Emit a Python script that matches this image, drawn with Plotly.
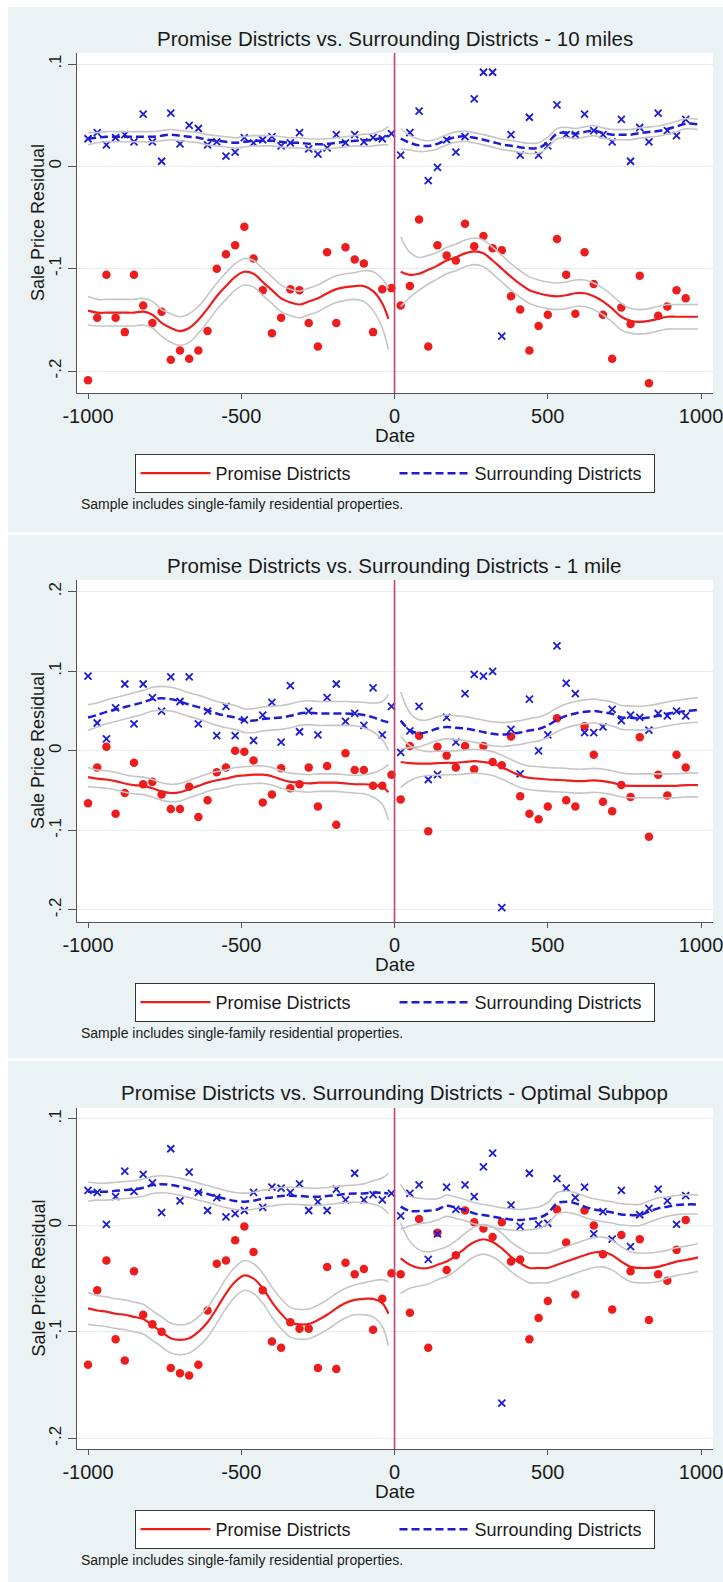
import plotly.graph_objects as go

W, H = 723, 1582

# ---------------- data ----------------
XL = [-1000, -970, -940, -910, -880, -850, -820, -790, -760, -730, -700, -670, -640, -610, -580, -550, -520,
      -490, -460, -430, -400, -370, -340, -310, -280, -250, -220, -190, -160, -130, -100, -70, -40, -10]
XR = [20, 50, 80, 110, 140, 170, 200, 230, 260, 290, 320, 350, 380, 410, 440, 470, 500, 530, 560, 590, 620,
      650, 680, 710, 740, 770, 800, 830, 860, 890, 920, 950]
XL_FIT = [-1000, -970, -940, -910, -880, -850, -820, -790, -760, -730, -700, -670, -640, -610, -580, -550, -520,
          -490, -460, -430, -400, -370, -340, -310, -280, -250, -220, -190, -160, -130, -100, -70, -40, -20]
XR_FIT = [20, 50, 80, 110, 140, 170, 200, 230, 260, 290, 320, 350, 380, 410, 440, 470, 500, 530, 560, 590, 620,
          650, 680, 710, 740, 770, 800, 830, 860, 890, 920, 950, 990]

TITLES = ["Promise Districts vs. Surrounding Districts - 10 miles",
          "Promise Districts vs. Surrounding Districts - 1 mile",
          "Promise Districts vs. Surrounding Districts - Optimal Subpop"]
X_TICKS = [-1000, -500, 0, 500, 1000]
X_TICKTEXT = ["-1000", "-500", "0", "500", "1000"]
Y_TICKS_A = [0.1, 0, -0.1, -0.2]
Y_TICKTEXT_A = [".1", "0", "-.1", "-.2"]
Y_TICKS_B = [0.2, 0.1, 0, -0.1, -0.2]
Y_TICKTEXT_B = [".2", ".1", "0", "-.1", "-.2"]
NOTE = "Sample includes single-family residential properties."

# ---- panel 1: 10 miles ----
P1_RED_L = [-0.209, -0.148, -0.106, -0.148, -0.162, -0.106, -0.136, -0.153, -0.142, -0.189, -0.180, -0.188,
            -0.180, -0.161, -0.100, -0.086, -0.077, -0.059, -0.090, -0.121, -0.163, -0.148, -0.120, -0.121,
            -0.153, -0.176, -0.084, -0.153, -0.079, -0.091, -0.095, -0.162, -0.120, -0.119]
P1_RED_R = [-0.136, -0.117, -0.052, -0.176, -0.077, -0.087, -0.092, -0.056, -0.078, -0.068, -0.080, -0.082,
            -0.127, -0.140, -0.180, -0.156, -0.145, -0.071, -0.106, -0.144, -0.084, -0.115, -0.145, -0.188,
            -0.138, -0.154, -0.107, -0.212, -0.146, -0.137, -0.121, -0.129]
P1_BLUE_L = [0.027, 0.033, 0.021, 0.028, 0.031, 0.024, 0.051, 0.024, 0.005, 0.052, 0.022, 0.040, 0.037,
             0.021, 0.024, 0.010, 0.014, 0.028, 0.023, 0.026, 0.029, 0.020, 0.023, 0.033, 0.017, 0.012,
             0.018, 0.031, 0.023, 0.031, 0.024, 0.028, 0.027, 0.032]
P1_BLUE_R = [0.011, 0.033, 0.054, -0.014, -0.001, 0.026, 0.014, 0.029, 0.066, 0.092, 0.092, -0.166, 0.031,
             0.011, 0.048, 0.011, 0.020, 0.060, 0.031, 0.031, 0.051, 0.035, 0.031, 0.024, 0.046, 0.005,
             0.038, 0.024, 0.052, 0.035, 0.030, 0.046]
P1_RED_FIT_L = [-0.141, -0.143, -0.143, -0.143, -0.143, -0.143, -0.142, -0.145, -0.153, -0.158, -0.161, -0.158,
                -0.150, -0.139, -0.127, -0.117, -0.108, -0.103, -0.105, -0.113, -0.121, -0.129, -0.133, -0.135,
                -0.132, -0.129, -0.124, -0.120, -0.118, -0.117, -0.117, -0.122, -0.134, -0.149]
P1_RED_HW_L = [0.014, 0.013, 0.013, 0.013, 0.013, 0.013, 0.013, 0.013, 0.013, 0.014, 0.014, 0.014, 0.013,
               0.013, 0.013, 0.013, 0.013, 0.013, 0.013, 0.013, 0.013, 0.013, 0.013, 0.013, 0.013, 0.013,
               0.013, 0.013, 0.013, 0.013, 0.015, 0.019, 0.024, 0.030]
P1_RED_FIT_R = [-0.103, -0.106, -0.105, -0.101, -0.097, -0.092, -0.089, -0.085, -0.083, -0.085, -0.092, -0.100,
                -0.108, -0.115, -0.121, -0.124, -0.126, -0.127, -0.126, -0.124, -0.124, -0.127, -0.132, -0.139,
                -0.147, -0.151, -0.152, -0.151, -0.149, -0.147, -0.147, -0.147, -0.147]
P1_RED_HW_R = [0.034, 0.022, 0.016, 0.014, 0.013, 0.013, 0.013, 0.013, 0.013, 0.013, 0.013, 0.013, 0.013,
               0.013, 0.013, 0.013, 0.013, 0.013, 0.013, 0.013, 0.013, 0.013, 0.013, 0.013, 0.013, 0.012,
               0.012, 0.012, 0.012, 0.012, 0.012, 0.012, 0.012]
P1_BLUE_FIT_L = [0.027, 0.028, 0.029, 0.029, 0.029, 0.029, 0.029, 0.029, 0.030, 0.031, 0.030, 0.029, 0.028,
                 0.026, 0.025, 0.024, 0.023, 0.024, 0.025, 0.025, 0.025, 0.024, 0.023, 0.023, 0.022, 0.0215,
                 0.022, 0.023, 0.024, 0.025, 0.0255, 0.026, 0.028, 0.030]
P1_BLUE_HW_L = [0.006, 0.005, 0.005, 0.005, 0.005, 0.005, 0.005, 0.005, 0.005, 0.005, 0.005, 0.005, 0.005,
                0.005, 0.005, 0.005, 0.005, 0.005, 0.005, 0.005, 0.005, 0.005, 0.005, 0.005, 0.005, 0.005,
                0.005, 0.005, 0.005, 0.005, 0.006, 0.006, 0.007, 0.009]
P1_BLUE_FIT_R = [0.027, 0.023, 0.0205, 0.020, 0.022, 0.026, 0.0287, 0.0293, 0.028, 0.026, 0.0238, 0.0215,
                 0.0202, 0.0186, 0.0176, 0.018, 0.0235, 0.0319, 0.0332, 0.032, 0.0336, 0.035, 0.0326, 0.031,
                 0.031, 0.031, 0.0326, 0.0336, 0.0345, 0.0365, 0.039, 0.0417, 0.041]
P1_BLUE_HW_R = [0.010, 0.007, 0.006, 0.005, 0.005, 0.005, 0.005, 0.005, 0.005, 0.005, 0.005, 0.005, 0.005,
                0.005, 0.005, 0.005, 0.005, 0.005, 0.005, 0.005, 0.005, 0.005, 0.005, 0.005, 0.005, 0.005,
                0.005, 0.005, 0.005, 0.005, 0.005, 0.005, 0.005]

# ---- panel 2: 1 mile ----
P2_RED_L = [-0.066, -0.021, 0.005, -0.079, -0.053, -0.015, -0.042, -0.039, -0.055, -0.073, -0.073, -0.045,
            -0.083, -0.062, -0.027, -0.021, 0.000, -0.001, -0.012, -0.065, -0.055, -0.022, -0.047, -0.042,
            -0.021, -0.070, -0.019, -0.093, -0.003, -0.024, -0.024, -0.044, -0.044, -0.030]
P2_RED_R = [-0.061, 0.006, 0.019, -0.101, 0.005, -0.006, -0.021, 0.006, -0.023, 0.006, -0.014, -0.018,
            0.018, -0.057, -0.079, -0.086, -0.070, 0.041, -0.062, -0.070, 0.031, -0.005, -0.064, -0.076,
            -0.043, -0.058, 0.017, -0.108, -0.030, -0.056, -0.005, -0.021]
P2_BLUE_L = [0.094, 0.035, 0.015, 0.054, 0.084, 0.034, 0.084, 0.067, 0.050, 0.093, 0.062, 0.093, 0.034,
             0.050, 0.019, 0.056, 0.019, 0.039, 0.013, 0.045, 0.061, 0.011, 0.082, 0.024, 0.050, 0.020,
             0.067, 0.084, 0.037, 0.047, 0.032, 0.079, 0.020, 0.056]
P2_BLUE_R = [-0.002, 0.025, 0.056, -0.036, -0.030, 0.042, 0.011, 0.072, 0.096, 0.094, 0.100, -0.197, 0.027,
             -0.029, 0.065, 0.000, 0.020, 0.132, 0.085, 0.072, 0.023, 0.023, 0.030, 0.052, 0.038, 0.045,
             0.042, 0.026, 0.047, 0.044, 0.050, 0.044]
P2_RED_FIT_L = [-0.033, -0.035, -0.036, -0.038, -0.041, -0.043, -0.044, -0.047, -0.051, -0.053, -0.052, -0.048,
                -0.044, -0.040, -0.037, -0.035, -0.032, -0.031, -0.030, -0.030, -0.032, -0.036, -0.039, -0.040,
                -0.041, -0.040, -0.040, -0.040, -0.041, -0.042, -0.042, -0.043, -0.045, -0.052]
P2_RED_HW_L = [0.012, 0.011, 0.011, 0.011, 0.011, 0.011, 0.011, 0.011, 0.011, 0.011, 0.011, 0.011, 0.011,
               0.011, 0.011, 0.011, 0.011, 0.011, 0.011, 0.011, 0.011, 0.011, 0.011, 0.011, 0.011, 0.011,
               0.011, 0.011, 0.011, 0.011, 0.012, 0.015, 0.022, 0.035]
P2_RED_FIT_R = [-0.014, -0.0155, -0.016, -0.016, -0.0155, -0.015, -0.015, -0.014, -0.013, -0.014, -0.016,
                -0.0205, -0.026, -0.031, -0.034, -0.035, -0.036, -0.0365, -0.037, -0.038, -0.038, -0.037,
                -0.038, -0.040, -0.043, -0.044, -0.044, -0.044, -0.044, -0.044, -0.044, -0.043, -0.043]
P2_RED_HW_R = [0.032, 0.022, 0.017, 0.015, 0.015, 0.015, 0.015, 0.015, 0.015, 0.015, 0.015, 0.015, 0.015,
               0.015, 0.015, 0.015, 0.015, 0.015, 0.015, 0.015, 0.015, 0.015, 0.015, 0.015, 0.015, 0.015,
               0.015, 0.015, 0.015, 0.015, 0.015, 0.015, 0.015]
P2_BLUE_FIT_L = [0.042, 0.045, 0.049, 0.052, 0.055, 0.058, 0.061, 0.065, 0.066, 0.065, 0.062, 0.058, 0.055,
                 0.051, 0.047, 0.044, 0.042, 0.038, 0.038, 0.040, 0.041, 0.042, 0.044, 0.047, 0.048, 0.047,
                 0.047, 0.047, 0.047, 0.0465, 0.045, 0.042, 0.038, 0.036]
P2_BLUE_HW_L = [0.016, 0.015, 0.015, 0.015, 0.015, 0.015, 0.015, 0.015, 0.015, 0.015, 0.015, 0.015, 0.015,
                0.015, 0.015, 0.015, 0.015, 0.015, 0.015, 0.015, 0.015, 0.015, 0.015, 0.015, 0.015, 0.015,
                0.015, 0.015, 0.015, 0.015, 0.016, 0.018, 0.024, 0.035]
P2_BLUE_FIT_R = [0.038, 0.026, 0.022, 0.024, 0.028, 0.030, 0.029, 0.028, 0.026, 0.0235, 0.0215, 0.0205, 0.0215,
                 0.023, 0.0255, 0.0275, 0.032, 0.039, 0.044, 0.047, 0.049, 0.050, 0.0485, 0.0465, 0.042,
                 0.0415, 0.041, 0.042, 0.044, 0.0465, 0.0485, 0.050, 0.0515]
P2_BLUE_HW_R = [0.036, 0.022, 0.017, 0.015, 0.015, 0.015, 0.015, 0.015, 0.015, 0.015, 0.015, 0.015, 0.015,
                0.015, 0.015, 0.015, 0.015, 0.015, 0.015, 0.015, 0.015, 0.015, 0.015, 0.015, 0.015, 0.015,
                0.015, 0.015, 0.015, 0.015, 0.015, 0.015, 0.0155]

# ---- panel 3: optimal subpop ----
P3_RED_L = [-0.131, -0.061, -0.033, -0.107, -0.127, -0.043, -0.084, -0.093, -0.100, -0.134, -0.139, -0.141,
            -0.131, -0.080, -0.036, -0.033, -0.014, -0.001, -0.025, -0.061, -0.109, -0.115, -0.091, -0.097,
            -0.097, -0.134, -0.039, -0.135, -0.035, -0.046, -0.041, -0.098, -0.069, -0.045]
P3_RED_R = [-0.046, -0.082, 0.006, -0.115, -0.007, -0.042, -0.028, 0.014, 0.003, -0.003, -0.011, 0.003,
            -0.034, -0.032, -0.107, -0.087, -0.071, 0.015, -0.016, -0.065, 0.014, 0.000, -0.027, -0.079,
            -0.009, -0.043, -0.013, -0.089, -0.046, -0.052, -0.023, 0.005]
P3_BLUE_L = [0.033, 0.031, 0.001, 0.027, 0.051, 0.032, 0.048, 0.040, 0.012, 0.072, 0.023, 0.050, 0.031,
             0.014, 0.026, 0.008, 0.011, 0.014, 0.031, 0.017, 0.036, 0.035, 0.031, 0.039, 0.014, 0.022,
             0.014, 0.034, 0.024, 0.049, 0.024, 0.029, 0.024, 0.030]
P3_BLUE_R = [0.009, 0.030, 0.038, -0.032, -0.008, 0.036, 0.015, 0.038, 0.027, 0.055, 0.068, -0.167, 0.019,
             -0.001, 0.049, 0.001, 0.002, 0.044, 0.035, 0.026, 0.036, -0.008, 0.013, -0.013, 0.033, -0.020,
             0.010, 0.016, 0.034, 0.023, 0.001, 0.028]
P3_RED_FIT_L = [-0.078, -0.080, -0.081, -0.083, -0.084, -0.086, -0.088, -0.094, -0.100, -0.106, -0.1075, -0.106,
                -0.100, -0.091, -0.078, -0.064, -0.053, -0.047, -0.050, -0.059, -0.072, -0.083, -0.091, -0.093,
                -0.0925, -0.089, -0.084, -0.078, -0.073, -0.070, -0.069, -0.069, -0.073, -0.083]
P3_RED_HW_L = [0.015, 0.014, 0.014, 0.014, 0.014, 0.014, 0.014, 0.014, 0.014, 0.014, 0.014, 0.014, 0.014,
               0.014, 0.014, 0.014, 0.014, 0.014, 0.014, 0.014, 0.014, 0.014, 0.014, 0.014, 0.014, 0.014,
               0.014, 0.014, 0.014, 0.014, 0.015, 0.017, 0.022, 0.030]
P3_RED_FIT_R = [-0.031, -0.037, -0.040, -0.040, -0.037, -0.034, -0.0285, -0.0215, -0.0155, -0.013, -0.0155,
                -0.0215, -0.0295, -0.0355, -0.040, -0.040, -0.040, -0.037, -0.034, -0.031, -0.028, -0.0255,
                -0.025, -0.028, -0.034, -0.039, -0.040, -0.040, -0.039, -0.0365, -0.034, -0.0325, -0.030]
P3_RED_HW_R = [0.033, 0.022, 0.017, 0.015, 0.014, 0.014, 0.014, 0.014, 0.014, 0.014, 0.014, 0.014, 0.014,
               0.014, 0.014, 0.014, 0.014, 0.014, 0.014, 0.014, 0.014, 0.014, 0.014, 0.014, 0.014, 0.014,
               0.014, 0.014, 0.014, 0.013, 0.013, 0.013, 0.013]
P3_BLUE_FIT_L = [0.0317, 0.0317, 0.0317, 0.0325, 0.0333, 0.034, 0.0354, 0.038, 0.0386, 0.038, 0.0364, 0.0342,
                 0.0317, 0.0295, 0.027, 0.0248, 0.0229, 0.0223, 0.0232, 0.0251, 0.0263, 0.0276, 0.0279, 0.0276,
                 0.027, 0.027, 0.0276, 0.0285, 0.0295, 0.030, 0.030, 0.031, 0.0305, 0.030]
P3_BLUE_HW_L = [0.009, 0.008, 0.008, 0.008, 0.008, 0.008, 0.008, 0.008, 0.008, 0.008, 0.008, 0.008, 0.008,
                0.008, 0.008, 0.008, 0.008, 0.008, 0.008, 0.008, 0.008, 0.008, 0.008, 0.008, 0.008, 0.008,
                0.008, 0.008, 0.008, 0.008, 0.009, 0.011, 0.014, 0.019]
P3_BLUE_FIT_R = [0.0176, 0.0135, 0.0135, 0.0138, 0.015, 0.0185, 0.0166, 0.0144, 0.0113, 0.0097, 0.0082, 0.0066,
                 0.0056, 0.005, 0.006, 0.0072, 0.0113, 0.0207, 0.0223, 0.0207, 0.0176, 0.015, 0.0135, 0.0122,
                 0.0103, 0.0097, 0.0097, 0.0129, 0.016, 0.0176, 0.0191, 0.0197, 0.0197]
P3_BLUE_HW_R = [0.021, 0.014, 0.012, 0.011, 0.010, 0.010, 0.010, 0.010, 0.010, 0.010, 0.010, 0.010, 0.010,
                0.010, 0.010, 0.010, 0.010, 0.010, 0.010, 0.010, 0.010, 0.010, 0.010, 0.010, 0.010, 0.010,
                0.010, 0.010, 0.010, 0.009, 0.009, 0.009, 0.009]

# ---------------- styling ----------------
PANEL_BG = "#EAF2F3"
RED = "#EE1D1D"
BLUE = "#1C1CD4"
CI_GRAY = "#C6C6C6"
VLINE = "#C8406C"
AXIS_C = "#555555"
TXT = "#1a1a1a"
FONT = "Liberation Sans, Arial, sans-serif"


def py(px):
    return 1 - px / H


def px_x(px):
    return px / W


panels = [
    dict(title=TITLES[0], rl=P1_RED_L, rr=P1_RED_R, bl=P1_BLUE_L, br=P1_BLUE_R,
         rfl=P1_RED_FIT_L, rhl=P1_RED_HW_L, rfr=P1_RED_FIT_R, rhr=P1_RED_HW_R,
         bfl=P1_BLUE_FIT_L, bhl=P1_BLUE_HW_L, bfr=P1_BLUE_FIT_R, bhr=P1_BLUE_HW_R,
         top=53, bottom=393, yr=[-0.2215, 0.1108], yt=Y_TICKS_A, ytt=Y_TICKTEXT_A, ptop=7),
    dict(title=TITLES[1], rl=P2_RED_L, rr=P2_RED_R, bl=P2_BLUE_L, br=P2_BLUE_R,
         rfl=P2_RED_FIT_L, rhl=P2_RED_HW_L, rfr=P2_RED_FIT_R, rhr=P2_RED_HW_R,
         bfl=P2_BLUE_FIT_L, bhl=P2_BLUE_HW_L, bfr=P2_BLUE_FIT_R, bhr=P2_BLUE_HW_R,
         top=580, bottom=922, yr=[-0.2151, 0.2147], yt=Y_TICKS_B, ytt=Y_TICKTEXT_B, ptop=535),
    dict(title=TITLES[2], rl=P3_RED_L, rr=P3_RED_R, bl=P3_BLUE_L, br=P3_BLUE_R,
         rfl=P3_RED_FIT_L, rhl=P3_RED_HW_L, rfr=P3_RED_FIT_R, rhr=P3_RED_HW_R,
         bfl=P3_BLUE_FIT_L, bhl=P3_BLUE_HW_L, bfr=P3_BLUE_FIT_R, bhr=P3_BLUE_HW_R,
         top=1108, bottom=1449, yr=[-0.2101, 0.1103], yt=Y_TICKS_A, ytt=Y_TICKTEXT_A, ptop=1061),
]

fig = go.Figure()
annotations = []
shapes = []
layout = {}

PLOT_L, PLOT_R = 77, 713
XC = (PLOT_L + PLOT_R) / 2

for i, p in enumerate(panels, start=1):
    xa = "x" if i == 1 else f"x{i}"
    ya = "y" if i == 1 else f"y{i}"
    lg = "legend" if i == 1 else f"legend{i}"

    def add(**kw):
        fig.add_trace(go.Scatter(xaxis=xa, yaxis=ya, legend=lg, hoverinfo="skip", **kw))

    # scatter markers
    add(x=XL, y=p["rl"], mode="markers", showlegend=False,
        marker=dict(symbol="circle", size=8.5, color=RED, line=dict(width=0)))
    add(x=XR, y=p["rr"], mode="markers", showlegend=False,
        marker=dict(symbol="circle", size=8.5, color=RED, line=dict(width=0)))
    add(x=XL, y=p["bl"], mode="markers", showlegend=False,
        marker=dict(symbol="x-thin", size=7, color=BLUE, line=dict(width=1.8, color=BLUE)))
    add(x=XR, y=p["br"], mode="markers", showlegend=False,
        marker=dict(symbol="x-thin", size=7, color=BLUE, line=dict(width=1.8, color=BLUE)))

    # confidence bands (gray lines)
    for xs, fit, hw in [(XL_FIT, p["rfl"], p["rhl"]), (XR_FIT, p["rfr"], p["rhr"]),
                        (XL_FIT, p["bfl"], p["bhl"]), (XR_FIT, p["bfr"], p["bhr"])]:
        up = [f + h for f, h in zip(fit, hw)]
        lo = [f - h for f, h in zip(fit, hw)]
        for band in (up, lo):
            add(x=xs, y=band, mode="lines", showlegend=False,
                line=dict(color=CI_GRAY, width=1.6, shape="spline", smoothing=1.0))

    # fitted lines
    add(x=XL_FIT, y=p["rfl"], mode="lines", name="Promise Districts", showlegend=True,
        line=dict(color=RED, width=2.2, shape="spline", smoothing=1.0))
    add(x=XR_FIT, y=p["rfr"], mode="lines", name="Promise Districts", showlegend=False,
        line=dict(color=RED, width=2.2, shape="spline", smoothing=1.0))
    add(x=XL_FIT, y=p["bfl"], mode="lines", name="Surrounding Districts", showlegend=True,
        line=dict(color=BLUE, width=2.5, dash="8px,4px", shape="spline", smoothing=1.0))
    add(x=XR_FIT, y=p["bfr"], mode="lines", name="Surrounding Districts", showlegend=False,
        line=dict(color=BLUE, width=2.5, dash="8px,4px", shape="spline", smoothing=1.0))

    dom = [py(p["bottom"]), py(p["top"])]
    layout[("xaxis" if i == 1 else f"xaxis{i}")] = dict(
        domain=[px_x(PLOT_L), px_x(PLOT_R)], anchor=ya, range=[-1036, 1039],
        tickvals=X_TICKS, ticktext=X_TICKTEXT, ticks="outside", ticklen=5, tickwidth=1,
        tickcolor=AXIS_C, showline=True, linecolor=AXIS_C, linewidth=1.2,
        ticklabeloverflow="allow", automargin=False,
        showgrid=False, zeroline=False, tickfont=dict(size=20, color=TXT, family=FONT))
    layout[("yaxis" if i == 1 else f"yaxis{i}")] = dict(
        domain=dom, anchor=xa, range=p["yr"], tickvals=p["yt"], ticktext=p["ytt"],
        tickangle=-90, ticks="outside", ticklen=8, tickwidth=1, tickcolor=AXIS_C,
        showline=True, linecolor=AXIS_C, linewidth=1.2, showgrid=True, automargin=False,
        gridcolor="#E4ECEE", gridwidth=1, zeroline=False,
        tickfont=dict(size=17, color=TXT, family=FONT))

    layout[lg] = dict(
        x=px_x(394.5), y=py(p["bottom"] + 61), xanchor="center", yanchor="top",
        orientation="h", bgcolor="white", bordercolor="#333333", borderwidth=1,
        font=dict(size=18, color=TXT, family=FONT), itemwidth=70, traceorder="normal",
        entrywidth=174, itemclick=False, itemdoubleclick=False)

    # vertical reference line at 0
    shapes.append(dict(type="line", xref=xa, yref=f"{ya} domain", x0=0, x1=0, y0=0, y1=1,
                       line=dict(color=VLINE, width=1.6), layer="above"))

    # text
    annotations.append(dict(text=p["title"], x=px_x(XC), y=py(p["ptop"] + 31), xref="paper",
                            yref="paper", xanchor="center", yanchor="middle", showarrow=False,
                            font=dict(size=20.5, color=TXT, family=FONT)))
    annotations.append(dict(text="Date", x=px_x(XC), y=py(p["bottom"] + 42), xref="paper",
                            yref="paper", xanchor="center", yanchor="middle", showarrow=False,
                            font=dict(size=19, color=TXT, family=FONT)))
    annotations.append(dict(text="Sale Price Residual", x=px_x(38), y=py((p["top"] + p["bottom"]) / 2),
                            xref="paper", yref="paper", xanchor="center", yanchor="middle",
                            textangle=-90, showarrow=False, font=dict(size=18, color=TXT, family=FONT)))
    annotations.append(dict(text=NOTE, x=px_x(79), y=py(p["bottom"] + 111), xref="paper",
                            yref="paper", xanchor="left", yanchor="middle", showarrow=False,
                            font=dict(size=14, color=TXT, family=FONT)))

# white separators between the gray panels
for (x0, x1, y0, y1) in [(0, 8, 0, H), (0, W, 0, 7), (0, W, 532, 535), (0, W, 1058, 1061)]:
    shapes.append(dict(type="rect", xref="paper", yref="paper", x0=px_x(x0), x1=px_x(x1),
                       y0=py(y1), y1=py(y0), fillcolor="white", line=dict(width=0), layer="below"))

fig.update_layout(
    width=W, height=H, margin=dict(l=0, r=0, t=0, b=0, pad=0, autoexpand=False),
    paper_bgcolor=PANEL_BG, plot_bgcolor="white",
    shapes=shapes, annotations=annotations, **layout)

fig.write_html("out.html")
